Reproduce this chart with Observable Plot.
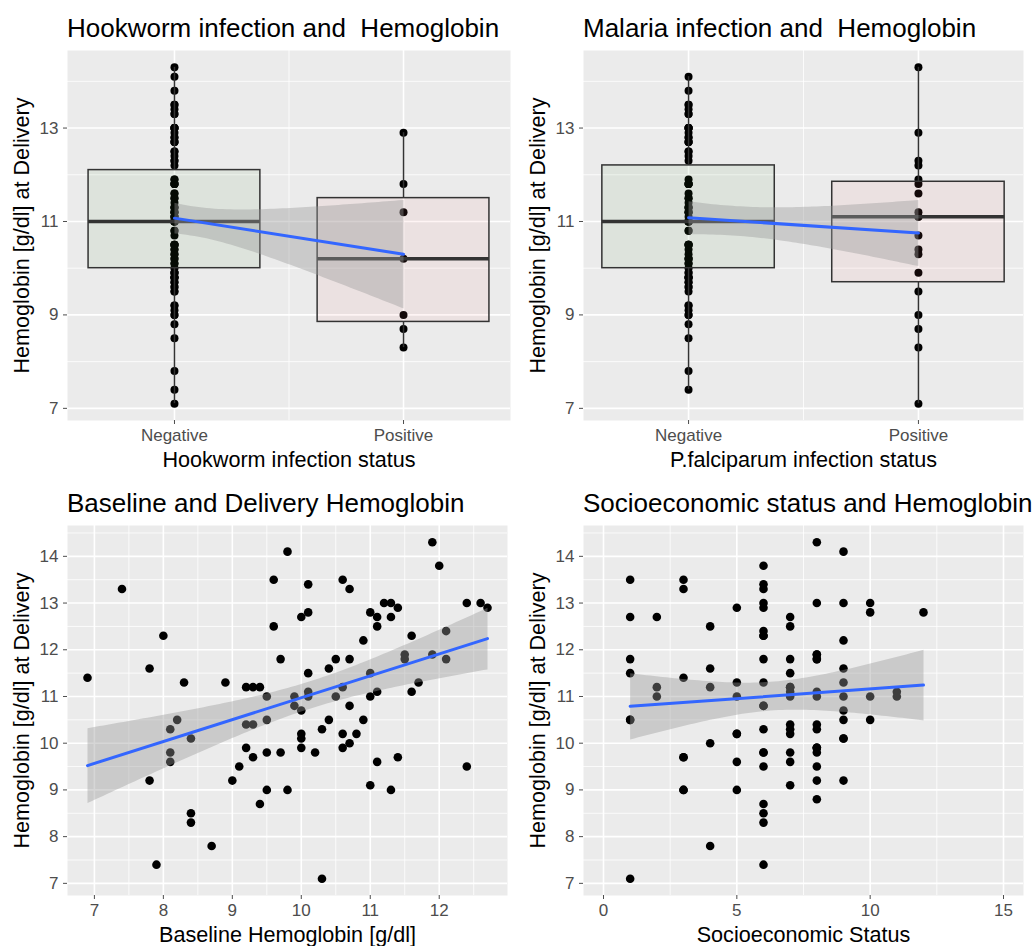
<!DOCTYPE html>
<html>
<head>
<meta charset="utf-8">
<script src="https://cdn.jsdelivr.net/npm/d3@7"></script>
<script src="https://cdn.jsdelivr.net/npm/@observablehq/plot@0.6"></script>
<style>
  body { margin: 0; background: #ffffff; }
  #wrap { position: relative; width: 1034px; height: 946px; overflow: hidden; background: #fff;
          font-family: "Liberation Sans", Arial, sans-serif; }
  .title { position: absolute; font-size: 26px; line-height: 1; color: #000; white-space: pre; }
  .panel { position: absolute; }
</style>
</head>
<body>
<div id="wrap"></div>
<script>
// ---------- data ----------
const statusLabels = ["Negative", "Positive"];

const hookwormNegative = [7.1, 7.4, 7.8, 8.5, 8.8, 9.0, 9.0, 9.1, 9.2, 9.2, 9.5, 9.5, 9.6, 9.6, 9.7, 9.7,
  9.8, 9.8, 9.8, 9.8, 9.9, 9.9, 9.9, 10.0, 10.1, 10.1, 10.2, 10.2, 10.3, 10.3, 10.4, 10.4, 10.5, 10.5,
  10.5, 10.5, 10.7, 10.8, 10.8, 11.0, 11.0, 11.0, 11.0, 11.0, 11.1, 11.1, 11.1, 11.2, 11.2, 11.2, 11.3,
  11.3, 11.3, 11.4, 11.5, 11.5, 11.6, 11.6, 11.8, 11.8, 11.8, 11.8, 11.9, 11.9, 12.2, 12.3, 12.3, 12.4,
  12.5, 12.5, 12.7, 12.7, 12.7, 12.8, 12.8, 12.9, 13.0, 13.0, 13.0, 13.0, 13.3, 13.3, 13.4, 13.5, 13.5,
  13.8, 14.1, 14.3];
const hookwormPositive = [12.9, 11.8, 11.2, 10.2, 9.0, 8.7, 8.3];

const malariaNegative = [7.4, 7.8, 8.5, 8.8, 9.0, 9.0, 9.1, 9.2, 9.2, 9.5, 9.6, 9.6, 9.7, 9.7, 9.8, 9.8,
  9.8, 9.8, 9.9, 9.9, 10.0, 10.1, 10.1, 10.2, 10.2, 10.2, 10.3, 10.4, 10.5, 10.5, 10.5, 10.5, 10.8, 10.8,
  11.0, 11.0, 11.0, 11.0, 11.0, 11.1, 11.2, 11.2, 11.2, 11.3, 11.3, 11.3, 11.4, 11.5, 11.5, 11.6, 11.8,
  11.8, 11.8, 11.8, 11.9, 12.3, 12.4, 12.5, 12.5, 12.7, 12.7, 12.7, 12.8, 12.8, 12.9, 13.0, 13.0, 13.0,
  13.0, 13.3, 13.3, 13.4, 13.5, 13.5, 13.8, 14.1];
const malariaPositive = [14.3, 12.9, 12.3, 12.2, 11.9, 11.8, 11.6, 11.2, 11.1, 11.1, 10.7, 10.4, 10.3,
  9.9, 9.5, 9.0, 8.7, 8.3, 7.1];

// box statistics (whisker low, Q1, median, Q3, whisker high) per status
const hookwormBoxLo  = [7.1, 8.3];
const hookwormBoxQ1  = [10.0, 8.85];
const hookwormBoxMed = [11.0, 10.2];
const hookwormBoxQ3  = [12.1, 11.5];
const hookwormBoxHi  = [14.3, 12.9];

const malariaBoxLo  = [7.4, 7.1];
const malariaBoxQ1  = [10.0, 9.7];
const malariaBoxMed = [11.0, 11.1];
const malariaBoxQ3  = [12.2, 11.85];
const malariaBoxHi  = [14.1, 14.3];

const boxFills = ["#3c872f", "#f76e6e"];

// baseline vs delivery hemoglobin
const baselineHb = [6.9, 7.4, 7.8, 8.0, 7.8, 7.9, 8.1, 8.2, 8.1, 8.1, 8.3, 8.4, 8.4, 8.4, 8.7, 8.9, 9.0,
  9.1, 9.2, 9.3, 9.4, 9.2, 9.3, 9.2, 9.3, 9.4, 9.5, 9.5, 9.5, 9.5, 9.6, 9.6, 9.7, 9.7, 9.8, 9.8, 9.9, 9.9,
  10.0, 10.0, 10.0, 10.0, 10.0, 10.1, 10.1, 10.1, 10.1, 10.1, 10.2, 10.3, 10.3, 10.4, 10.4, 10.5, 10.5,
  10.6, 10.6, 10.6, 10.6, 10.7, 10.7, 10.7, 10.7, 10.8, 10.9, 10.9, 11.0, 11.0, 11.0, 11.0, 11.1, 11.1,
  11.1, 11.1, 11.2, 11.3, 11.3, 11.3, 11.4, 11.4, 11.5, 11.5, 11.6, 11.6, 11.7, 11.9, 11.9, 12.0, 12.1,
  12.1, 12.4, 12.4, 12.6, 12.7];
const deliveryHb = [11.4, 13.3, 11.6, 12.3, 9.2, 7.4, 10.3, 10.5, 9.8, 9.6, 11.3, 10.1, 8.5, 8.3, 7.8,
  11.3, 9.2, 9.5, 11.2, 11.2, 11.2, 10.4, 10.4, 9.9, 9.7, 8.7, 11.0, 10.5, 9.8, 9.0, 13.5, 12.5, 11.8,
  9.8, 14.1, 9.0, 11.0, 10.8, 12.7, 10.7, 10.2, 10.1, 9.9, 13.4, 12.8, 11.5, 11.1, 11.0, 9.8, 10.3, 7.1,
  11.6, 10.5, 11.8, 11.0, 13.5, 11.2, 10.2, 9.9, 13.3, 11.8, 10.8, 10.0, 10.2, 12.2, 10.5, 12.8, 11.5,
  11.0, 9.1, 12.7, 12.5, 11.1, 9.6, 13.0, 13.0, 12.7, 9.0, 12.9, 9.7, 11.9, 11.8, 12.3, 11.1, 11.3, 11.9,
  14.3, 13.8, 12.4, 11.8, 13.0, 9.5, 13.0, 12.9];

// socioeconomic status vs delivery hemoglobin (includes overlapping duplicates)
const sesScore = [1, 1, 1, 1, 1, 1, 1, 2, 2, 2, 3, 3, 3, 3, 3, 3, 3, 4, 4, 4, 4, 4, 5, 5, 5, 5, 5, 5, 5,
  6, 6, 6, 6, 6, 6, 6, 6, 6, 6, 6, 6, 6, 6, 6, 6, 6, 6, 6, 6,
  7, 7, 7, 7, 7, 7, 7, 7, 7, 7, 7, 7, 7, 7,
  8, 8, 8, 8, 8, 8, 8, 8, 8, 8, 8, 8, 8, 8, 8, 8, 8,
  9, 9, 9, 9, 9, 9, 9, 9, 9, 9, 9, 10, 10, 10, 10, 11, 11, 12];
const sesHb = [13.5, 12.7, 11.8, 11.5, 10.5, 10.5, 7.1,
  12.7, 11.2, 11.0,
  13.5, 13.3, 11.4, 9.7, 9.7, 9.0, 9.0,
  12.5, 11.6, 11.2, 10.0, 7.8,
  12.9, 11.3, 11.0, 10.2, 10.2, 9.6, 9.0,
  13.8, 13.4, 13.3, 13.0, 12.9, 12.4, 12.3, 12.3, 11.8, 11.3, 10.8, 10.8, 10.3, 9.8, 9.8, 9.5, 8.7, 8.5, 8.3, 7.4,
  12.7, 12.5, 11.8, 11.5, 11.2, 11.2, 11.1, 11.0, 10.4, 10.3, 10.2, 9.8, 9.6, 9.1,
  14.3, 13.0, 11.9, 11.9, 11.8, 11.8, 11.1, 11.0, 10.4, 10.3, 9.9, 9.9, 9.9, 9.8, 9.5, 9.2, 8.8,
  14.1, 13.0, 12.2, 11.6, 11.3, 11.0, 10.7, 10.5, 10.1, 10.1, 9.2,
  13.0, 12.8, 11.0, 10.5,
  11.1, 11.0,
  12.8];

// axis ticks
const yTicksTop = [7, 9, 11, 13];
const yMinorTop = [8, 10, 12, 14];
const yTicksBottom = [7, 8, 9, 10, 11, 12, 13, 14];
const yMinorBottom = [7.5, 8.5, 9.5, 10.5, 11.5, 12.5, 13.5, 14.5];
const xTicksStatus = [0, 1];
const xMinorStatus = [0.5];
const xTicksBaseline = [7, 8, 9, 10, 11, 12];
const xMinorBaseline = [7.5, 8.5, 9.5, 10.5, 11.5, 12.5];
const xTicksSes = [0, 5, 10, 15];
const xMinorSes = [2.5, 7.5, 12.5];

// ---------- drawing ----------
const FONT = "Liberation Sans, Arial, sans-serif";
const wrap = document.getElementById("wrap");
const Y_DOMAIN = [6.74, 14.66];
const BOX_HALF = 0.375;

function addTitle(text, left, top) {
  const d = document.createElement("div");
  d.className = "title";
  d.style.left = left + "px";
  d.style.top = top + "px";
  d.textContent = text;
  wrap.appendChild(d);
}

function panel(cfg) {
  const svg = Plot.plot({
    width: cfg.width,
    height: cfg.height,
    marginLeft: 67,
    marginRight: cfg.mR,
    marginTop: 5,
    marginBottom: cfg.mB,
    x: {domain: cfg.xDomain},
    y: {domain: Y_DOMAIN},
    style: {fontFamily: FONT, background: "transparent", overflow: "visible"},
    marks: [
      Plot.frame({fill: "#ebebeb", stroke: "none"}),
      Plot.ruleY(cfg.yMinor, {stroke: "white", strokeWidth: 0.8}),
      Plot.ruleX(cfg.xMinor, {stroke: "white", strokeWidth: 0.8}),
      Plot.ruleY(cfg.yTicks, {stroke: "white", strokeWidth: 1.6}),
      Plot.ruleX(cfg.xTicks, {stroke: "white", strokeWidth: 1.6}),
      ...cfg.marks,
      Plot.axisX({ticks: cfg.xTicks, tickFormat: cfg.xFormat, tickSize: 4, tickPadding: 4,
                  fontSize: 17, color: "#4d4d4d", label: null}),
      Plot.axisY({ticks: cfg.yTicks, tickFormat: d => String(d), tickSize: 4, tickPadding: 5,
                  fontSize: 17, color: "#4d4d4d", label: null}),
      Plot.text([cfg.xLabel], {text: d => d, frameAnchor: "bottom", dy: 40, textAnchor: "middle",
                               lineAnchor: "middle", fontSize: 21.6, fill: "black"}),
      Plot.text([cfg.yLabel], {text: d => d, frameAnchor: "left", dx: -45, rotate: -90, textAnchor: "middle",
                               lineAnchor: "middle", fontSize: 21.6, fill: "black"})
    ]
  });
  svg.classList.add("panel");
  svg.style.left = cfg.left + "px";
  svg.style.top = cfg.top + "px";
  wrap.appendChild(svg);
}

function statusTable(neg, pos) {
  return [...neg.map(v => ({x: 0, hb: v})), ...pos.map(v => ({x: 1, hb: v}))];
}
function boxTable(lo, q1, med, q3, hi) {
  return statusLabels.map((s, i) => ({x: i, lo: lo[i], q1: q1[i], med: med[i], q3: q3[i], hi: hi[i], fill: boxFills[i]}));
}
function boxMarks(tbl, boxes) {
  return [
    Plot.dot(tbl, {x: "x", y: "hb", r: 4, fill: "black"}),
    Plot.ruleX(boxes, {x: "x", y1: "lo", y2: "q1", stroke: "#333", strokeWidth: 1.5}),
    Plot.ruleX(boxes, {x: "x", y1: "q3", y2: "hi", stroke: "#333", strokeWidth: 1.5}),
    Plot.rect(boxes, {x1: d => d.x - BOX_HALF, x2: d => d.x + BOX_HALF, y1: "q1", y2: "q3",
                      fill: "fill", fillOpacity: 0.08, stroke: "#333", strokeWidth: 1.5}),
    Plot.ruleY(boxes, {y: "med", x1: d => d.x - BOX_HALF, x2: d => d.x + BOX_HALF, stroke: "#333", strokeWidth: 3.5}),
    Plot.linearRegressionY(tbl, {x: "x", y: "hb", ci: 0.95, stroke: "#3366ff", strokeWidth: 3,
                                 fill: "#999999", fillOpacity: 0.4})
  ];
}
const statusFormat = d => statusLabels[d];

// Panel 1: hookworm
addTitle("Hookworm infection and  Hemoglobin", 67, 15);
const hwTbl = statusTable(hookwormNegative, hookwormPositive);
panel({
  left: 0, top: 45, width: 517, height: 430, mR: 7, mB: 55,
  xDomain: [-0.467, 1.467], xTicks: xTicksStatus, xMinor: xMinorStatus, xFormat: statusFormat,
  yTicks: yTicksTop, yMinor: yMinorTop,
  xLabel: "Hookworm infection status", yLabel: "Hemoglobin [g/dl] at Delivery",
  marks: boxMarks(hwTbl, boxTable(hookwormBoxLo, hookwormBoxQ1, hookwormBoxMed, hookwormBoxQ3, hookwormBoxHi))
});

// Panel 2: malaria
addTitle("Malaria infection and  Hemoglobin", 583, 15);
const mlTbl = statusTable(malariaNegative, malariaPositive);
panel({
  left: 516, top: 45, width: 518, height: 430, mR: 11, mB: 55,
  xDomain: [-0.457, 1.457], xTicks: xTicksStatus, xMinor: xMinorStatus, xFormat: statusFormat,
  yTicks: yTicksTop, yMinor: yMinorTop,
  xLabel: "P.falciparum infection status", yLabel: "Hemoglobin [g/dl] at Delivery",
  marks: boxMarks(mlTbl, boxTable(malariaBoxLo, malariaBoxQ1, malariaBoxMed, malariaBoxQ3, malariaBoxHi))
});

// Panel 3: baseline vs delivery
addTitle("Baseline and Delivery Hemoglobin", 67, 490);
const bdTbl = baselineHb.map((b, i) => ({x: b, hb: deliveryHb[i]}));
panel({
  left: 0, top: 520, width: 517, height: 426, mR: 10, mB: 51,
  xDomain: [6.61, 12.99], xTicks: xTicksBaseline, xMinor: xMinorBaseline, xFormat: d => String(d),
  yTicks: yTicksBottom, yMinor: yMinorBottom,
  xLabel: "Baseline Hemoglobin [g/dl]", yLabel: "Hemoglobin [g/dl] at Delivery",
  marks: [
    Plot.dot(bdTbl, {x: "x", y: "hb", r: 4.3, fill: "black"}),
    Plot.linearRegressionY(bdTbl, {x: "x", y: "hb", ci: 0.95, stroke: "#3366ff", strokeWidth: 3,
                                   fill: "#999999", fillOpacity: 0.4})
  ]
});

// Panel 4: SES vs delivery
addTitle("Socioeconomic status and Hemoglobin", 583, 490);
const sesTbl = sesScore.map((s, i) => ({x: s, hb: sesHb[i]}));
panel({
  left: 516, top: 520, width: 518, height: 426, mR: 11, mB: 51,
  xDomain: [-0.75, 15.75], xTicks: xTicksSes, xMinor: xMinorSes, xFormat: d => String(d),
  yTicks: yTicksBottom, yMinor: yMinorBottom,
  xLabel: "Socioeconomic Status", yLabel: "Hemoglobin [g/dl] at Delivery",
  marks: [
    Plot.dot(sesTbl, {x: "x", y: "hb", r: 4.3, fill: "black"}),
    Plot.linearRegressionY(sesTbl, {x: "x", y: "hb", ci: 0.95, stroke: "#3366ff", strokeWidth: 3,
                                    fill: "#999999", fillOpacity: 0.4})
  ]
});
</script>
</body>
</html>
